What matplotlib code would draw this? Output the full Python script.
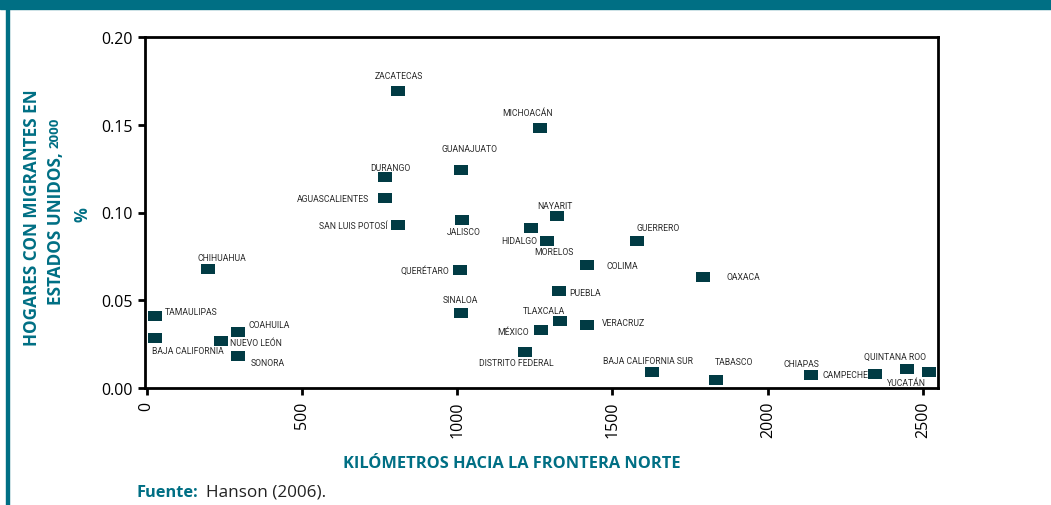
import matplotlib
matplotlib.use("Agg")
import matplotlib.pyplot as plt
from matplotlib import font_manager

# ---- data ----
states = ["ZACATECAS", "MICHOACÁN", "GUANAJUATO", "DURANGO", "AGUASCALIENTES",
          "SAN LUIS POTOSÍ", "JALISCO", "NAYARIT", "HIDALGO", "MORELOS",
          "GUERRERO", "COLIMA", "OAXACA", "CHIHUAHUA", "QUERÉTARO", "PUEBLA",
          "SINALOA", "TAMAULIPAS", "COAHUILA", "BAJA CALIFORNIA", "NUEVO LEÓN",
          "SONORA", "TLAXCALA", "MÉXICO", "VERACRUZ", "DISTRITO FEDERAL",
          "BAJA CALIFORNIA SUR", "TABASCO", "CHIAPAS", "CAMPECHE",
          "QUINTANA ROO", "YUCATÁN"]
km = [811, 1268, 1013, 769, 769,
      808, 1017, 1322, 1239, 1290,
      1580, 1419, 1792, 199, 1010, 1329,
      1013, 26, 296, 26, 241,
      296, 1332, 1271, 1419, 1219,
      1628, 1834, 2140, 2346,
      2449, 2519]
share = [0.169, 0.148, 0.124, 0.120, 0.108,
         0.093, 0.096, 0.098, 0.091, 0.084,
         0.084, 0.070, 0.063, 0.068, 0.067, 0.055,
         0.043, 0.041, 0.032, 0.0285, 0.027,
         0.018, 0.038, 0.033, 0.036, 0.0205,
         0.009, 0.0046, 0.0074, 0.008,
         0.011, 0.009]
x_ticks = [0, 500, 1000, 1500, 2000, 2500]
y_ticks = [0.00, 0.05, 0.10, 0.15, 0.20]

# label placement (pixel offsets dx, dy(up), horizontal alignment)
label_pos = {
    "ZACATECAS": (0, 16, "center"), "MICHOACÁN": (-13, 16, "center"),
    "GUANAJUATO": (8, 22, "center"), "DURANGO": (5, 10, "center"),
    "AGUASCALIENTES": (-16, 0, "right"), "SAN LUIS POTOSÍ": (-10, -1, "right"),
    "JALISCO": (1, -12, "center"), "NAYARIT": (-2, 11, "center"),
    "HIDALGO": (6, -12, "right"), "MORELOS": (7, -11, "center"),
    "GUERRERO": (-1, 13, "left"), "COLIMA": (19, 0, "left"),
    "OAXACA": (23, 1, "left"), "CHIHUAHUA": (14, 11, "center"),
    "QUERÉTARO": (-11, 0, "right"), "PUEBLA": (10, -1, "left"),
    "SINALOA": (-1, 13, "center"), "TAMAULIPAS": (10, 5, "left"),
    "COAHUILA": (10, 7, "left"), "BAJA CALIFORNIA": (-3, -13, "left"),
    "NUEVO LEÓN": (9, -2, "left"), "SONORA": (12, -6, "left"),
    "TLAXCALA": (-16, 11, "center"), "MÉXICO": (-12, -1, "right"),
    "VERACRUZ": (15, 2, "left"), "DISTRITO FEDERAL": (-9, -10, "center"),
    "BAJA CALIFORNIA SUR": (-4, 12, "center"), "TABASCO": (18, 18, "center"),
    "CHIAPAS": (-10, 12, "center"), "CAMPECHE": (-7, -1, "right"),
    "QUINTANA ROO": (-12, 12, "center"), "YUCATÁN": (-23, -10, "center"),
}

TEAL = "#006f84"
MARK = "#013b44"

avail = {f.name for f in font_manager.fontManager.ttflist}
small_font = "Liberation Sans Narrow" if "Liberation Sans Narrow" in avail else "Roboto"
small_size = 7 if small_font == "Liberation Sans Narrow" else 6.2
main_font = "Open Sans"

fig = plt.figure(figsize=(10.51, 5.06), dpi=100)
ax = fig.add_axes([145/1051, 1 - 389/506, (938-145)/1051, (389-38)/506])

rect = [(-1, -0.77), (1, -0.77), (1, 0.77), (-1, 0.77)]
ax.scatter(km, share, marker=rect, s=9.6**2, color=MARK, linewidths=0, zorder=3)

for name, xv, yv in zip(states, km, share):
    dx, dy, ha = label_pos[name]
    ax.annotate(name, (xv, yv), xytext=(dx*0.72, dy*0.72), textcoords="offset points",
                ha=ha, va="center", fontsize=small_size, color="#2b2b2b",
                family=small_font, zorder=4)

ax.set_xlim(-5, 2548)
ax.set_ylim(0, 0.20)
ax.set_xticks(x_ticks)
ax.set_xticklabels([str(t) for t in x_ticks], rotation=90)
ax.set_yticks(y_ticks)
ax.set_yticklabels([f"{t:.2f}" for t in y_ticks])
for sp in ax.spines.values():
    sp.set_linewidth(2.0)
    sp.set_color("black")
ax.tick_params(axis="both", direction="out", length=5, width=2, labelsize=11.5,
               colors="black", pad=4)
for lab in ax.get_xticklabels() + ax.get_yticklabels():
    lab.set_family(main_font)

fig.text(512/1051, 1 - 464/506, "KILÓMETROS HACIA LA FRONTERA NORTE",
         ha="center", va="center", fontsize=11.8, fontweight="bold",
         color=TEAL, family=main_font)

fig.text(32/1051, 1 - 218/506, "HOGARES CON MIGRANTES EN", rotation=90,
         ha="center", va="center", fontsize=12.3, fontweight="bold", color=TEAL,
         family=main_font)
fig.text(56/1051, 1 - 229/506, "ESTADOS UNIDOS,", rotation=90,
         ha="center", va="center", fontsize=12.3, fontweight="bold", color=TEAL,
         family=main_font)
fig.text(55/1051, 1 - 133/506, "2000", rotation=90,
         ha="center", va="center", fontsize=9.5, fontweight="bold", color=TEAL,
         family=main_font)
fig.text(82/1051, 1 - 215/506, "%", rotation=90,
         ha="center", va="center", fontsize=12, fontweight="bold", color=TEAL,
         family=main_font)

# decorations: top band and left rule
fig.patches.append(plt.Rectangle((0, 1 - 10/506), 1, 10/506, transform=fig.transFigure,
                                 color=TEAL, zorder=0))
fig.patches.append(plt.Rectangle((6/1051, 0), 2.5/1051, 1 - 10/506,
                                 transform=fig.transFigure, color=TEAL, zorder=0))

fig.text(136/1051, 1 - 493/506, "Fuente:", ha="left", va="center", fontsize=11.8,
         fontweight="bold", color=TEAL, family=main_font)
fig.text(206/1051, 1 - 493/506, "Hanson (2006).", ha="left", va="center",
         fontsize=12.3, color="#222222", family=main_font)

fig.savefig("out.png", dpi=100)
